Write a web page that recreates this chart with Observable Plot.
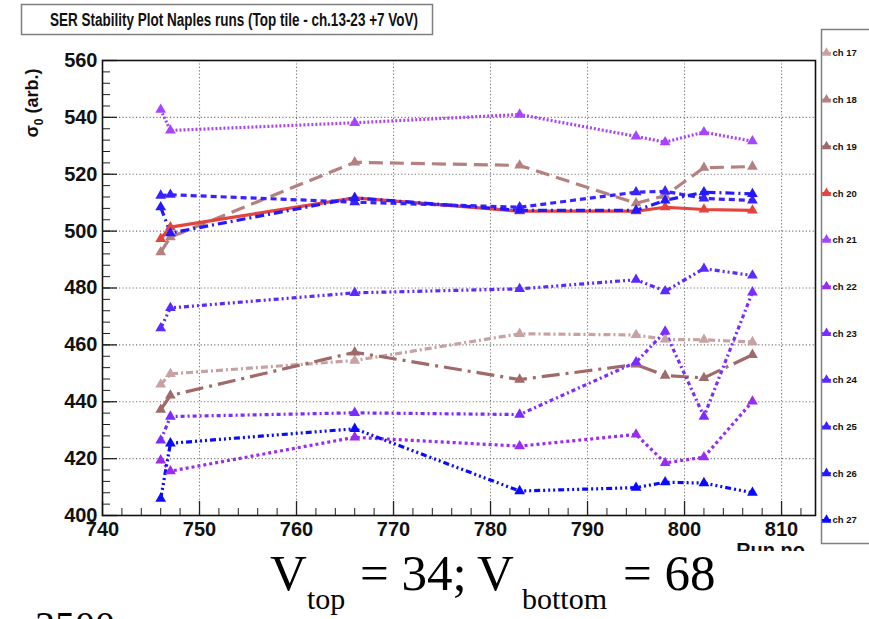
<!DOCTYPE html>
<html>
<head>
<meta charset="utf-8">
<script src="https://cdn.jsdelivr.net/npm/d3@7"></script>
<script src="https://cdn.jsdelivr.net/npm/@observablehq/plot@0.6"></script>
<style>
  html, body { margin: 0; padding: 0; background: #fff; }
  #wrap { position: relative; width: 869px; height: 619px; overflow: hidden; }
  svg { overflow: hidden; }
</style>
</head>
<body>
<div id="wrap"></div>
<script>
// ---- data ----
const runs = [746, 747, 766, 783, 795, 798, 802, 807];
const channels = ["ch 17", "ch 18", "ch 19", "ch 20", "ch 21", "ch 22", "ch 23", "ch 24", "ch 25", "ch 26", "ch 27"];
const ch17 = [446.1, 449.8, 454.5, 463.9, 463.5, 461.9, 461.8, 461.0];
const ch18 = [492.6, 497.9, 524.2, 523.1, 509.8, 512.5, 522.3, 522.7];
const ch19 = [437.2, 442.2, 457.4, 447.8, 453.1, 449.2, 448.4, 456.5];
const ch20 = [497.3, 501.4, 511.7, 507.0, 507.0, 508.4, 507.6, 507.3];
const ch21 = [542.7, 535.4, 538.1, 541.0, 533.3, 531.3, 534.8, 531.6];
const ch22 = [419.4, 415.6, 427.5, 424.4, 428.5, 418.5, 420.5, 440.1];
const ch23 = [426.4, 434.8, 436.1, 435.5, 453.9, 464.7, 434.8, 478.5];
const ch24 = [465.9, 473.0, 478.3, 479.7, 482.9, 478.9, 486.8, 484.4];
const ch25 = [512.5, 512.8, 510.2, 508.4, 513.7, 514.0, 511.5, 510.8];
const ch26 = [508.4, 499.3, 511.7, 507.3, 507.3, 510.8, 513.7, 513.1];
const ch27 = [405.9, 425.4, 430.5, 408.6, 409.8, 411.7, 411.4, 408.0];
const xTicks = [740, 750, 760, 770, 780, 790, 800, 810];
const yTicks = [400, 420, 440, 460, 480, 500, 520, 540, 560];

// ---- styles ----
const series = [ch17, ch18, ch19, ch20, ch21, ch22, ch23, ch24, ch25, ch26, ch27];
const colors = ["#c8a2a2", "#b48080", "#a06a6a", "#e4443c", "#a644ff", "#9a2cf0",
                "#7b2cff", "#5a2aff", "#3a22ff", "#2418ff", "#0a0aff"];
const dashes = ["7,3,2,3", "14,7", "18,6,3,6", null, "2,2", "3,3",
                "4,3,2,3", "5,3,2,3,2,3", "6,4", "9,4,2,4", "6,3,2,3,2,3,2,3"];

const rows = [];
series.forEach((s, k) => s.forEach((v, i) => rows.push({run: runs[i], value: v, ch: channels[k], k})));

const W = 869, H = 619, mL = 102, mR = 54, mT = 60, mB = 104;
const fw = W - mL - mR, fh = H - mT - mB;
const minorX = d3.range(740, 814, 2);
const minorY = d3.range(400, 561, 4);

const lineMarks = series.map((s, k) =>
  Plot.line(rows.filter(r => r.k === k), {
    x: "run", y: "value", stroke: colors[k], strokeWidth: 3.2,
    strokeDasharray: dashes[k] ?? undefined, strokeLinecap: "butt"
  })
);
const dotMarks = series.map((s, k) =>
  Plot.dot(rows.filter(r => r.k === k), {
    x: "run", y: "value", fill: colors[k], symbol: "triangle", r: 4
  })
);

const chart = Plot.plot({
  width: W, height: H,
  marginLeft: mL, marginRight: mR, marginTop: mT, marginBottom: mB,
  style: {fontFamily: "'Liberation Sans', Arial, sans-serif", background: "white", overflow: "hidden"},
  x: {domain: [740, 813.5]},
  y: {domain: [400, 560]},
  marks: [
    Plot.gridX(xTicks.slice(1), {stroke: "#777", strokeOpacity: 1, strokeDasharray: "1.2,2.2", strokeWidth: 1.1}),
    Plot.gridY(yTicks.slice(1, -1), {stroke: "#777", strokeOpacity: 1, strokeDasharray: "1.2,2.2", strokeWidth: 1.1}),
    Plot.tickX(minorX, {x: d => d, insetTop: fh - 7, stroke: "#222", strokeWidth: 1}),
    Plot.tickX(xTicks, {x: d => d, insetTop: fh - 14, stroke: "#222", strokeWidth: 1.3}),
    Plot.tickY(minorY, {y: d => d, insetRight: fw - 8, stroke: "#222", strokeWidth: 1}),
    Plot.tickY(yTicks, {y: d => d, insetRight: fw - 15, stroke: "#222", strokeWidth: 1.3}),
    ...lineMarks,
    ...dotMarks,
    Plot.frame({stroke: "#111", strokeWidth: 1.6}),
    Plot.axisX({ticks: xTicks, tickSize: 0, tickPadding: 6, fontSize: 20, fontWeight: "bold", fill: "#111", label: null}),
    Plot.axisY({ticks: yTicks, tickSize: 0, tickPadding: 5, fontSize: 20, fontWeight: "bold", fill: "#111", label: null})
  ]
});
document.getElementById("wrap").appendChild(chart);

// ---- annotations on the same SVG ----
const svg = d3.select(chart);
const sans = "'Liberation Sans', Arial, sans-serif";

// y-axis title
const yl = svg.append("text")
  .attr("transform", "translate(38,103) rotate(-90)")
  .attr("text-anchor", "middle")
  .attr("font-family", sans)
  .attr("font-weight", "bold").attr("font-size", 18).attr("fill", "#111");
yl.append("tspan").text("σ");
yl.append("tspan").attr("font-size", 12).attr("dy", 5).text("0");
yl.append("tspan").attr("dy", -5).text(" (arb.)");

// "Run no" (clipped at the bottom like the reference)
svg.append("clipPath").attr("id", "runclip")
  .append("rect").attr("x", 700).attr("y", 530).attr("width", 120).attr("height", 21);
svg.append("text")
  .attr("x", 805).attr("y", 557).attr("text-anchor", "end")
  .attr("clip-path", "url(#runclip)")
  .attr("font-family", sans)
  .attr("font-weight", "bold").attr("font-size", 20).attr("fill", "#111")
  .text("Run no");

// title box
svg.append("rect").attr("x", 21.5).attr("y", 4.5).attr("width", 411).attr("height", 30)
  .attr("fill", "white").attr("stroke", "#808080").attr("stroke-width", 1.5);
svg.append("text").attr("x", 50).attr("y", 26).attr("text-anchor", "start")
  .attr("font-family", sans)
  .attr("font-weight", "bold").attr("font-size", 17.5).attr("fill", "#111")
  .attr("textLength", 368).attr("lengthAdjust", "spacingAndGlyphs")
  .text("SER Stability Plot Naples runs (Top tile - ch.13-23 +7 VoV)");

// legend box
svg.append("rect").attr("x", 821.5).attr("y", 29.5).attr("width", 80).attr("height", 514)
  .attr("fill", "white").attr("stroke", "#808080").attr("stroke-width", 1.5);
const tri = d3.symbol(d3.symbolTriangle, 42);
channels.forEach((c, k) => {
  const y = 53 + k * 46.7;
  const g = svg.append("g").attr("transform", `translate(0,${y})`);
  g.append("line").attr("x1", 822).attr("x2", 831).attr("y1", 0).attr("y2", 0)
    .attr("stroke", colors[k]).attr("stroke-width", 2);
  g.append("path").attr("d", tri()).attr("transform", "translate(826.5,0)").attr("fill", colors[k]);
  g.append("text").attr("x", 832.5).attr("y", 3.4).attr("text-anchor", "start")
    .attr("font-family", sans)
    .attr("font-weight", "bold").attr("font-size", 9.5).attr("fill", "#111").text(c);
});

// slide text below the chart
const serif = "'Liberation Serif', 'Times New Roman', serif";
const big = [["V", 270], ["= 34;", 360], ["V", 477], ["= 68", 623]];
big.forEach(([t, x]) => svg.append("text").attr("x", x).attr("y", 590).attr("text-anchor", "start")
  .attr("font-family", serif).attr("font-size", 51).attr("fill", "#000").text(t));
const small = [["top", 307], ["bottom", 522]];
small.forEach(([t, x]) => svg.append("text").attr("x", x).attr("y", 609).attr("text-anchor", "start")
  .attr("font-family", serif).attr("font-size", 30).attr("fill", "#000").text(t));
svg.append("text").attr("x", 35).attr("y", 639).attr("text-anchor", "start")
  .attr("font-family", serif).attr("font-size", 40).attr("fill", "#000").text("3500");
</script>
</body>
</html>
